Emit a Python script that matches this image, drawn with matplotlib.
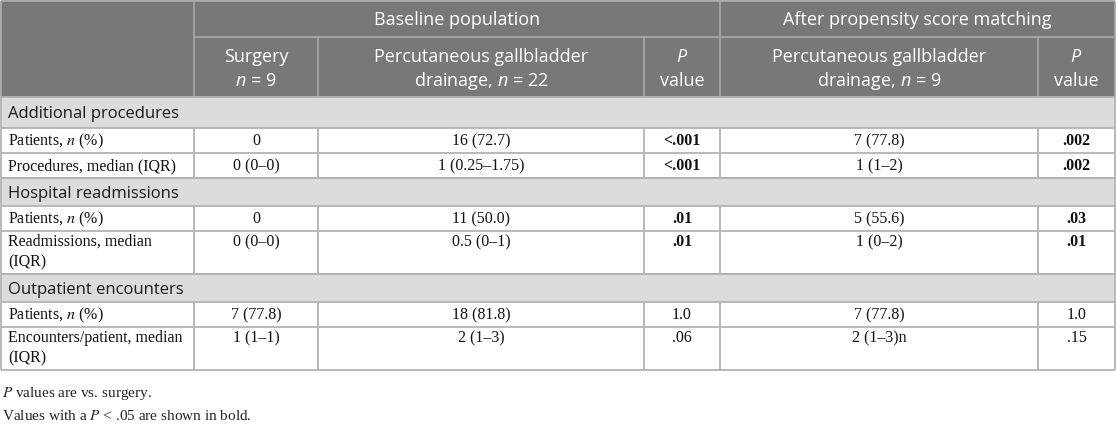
import matplotlib
matplotlib.use("Agg")
import matplotlib.pyplot as plt
from matplotlib.patches import Rectangle

# ── data ──────────────────────────────────────────────────────────────
groups = ["Baseline population", "After propensity score matching"]
col_heads = [["Surgery", "$n$ = 9"],
             ["Percutaneous gallbladder", "drainage, $n$ = 22"],
             ["$P$", "value"],
             ["Percutaneous gallbladder", "drainage, $n$ = 9"],
             ["$P$", "value"]]
sections = ["Additional procedures", "Hospital readmissions", "Outpatient encounters"]
row_labels = [["Patients, $n$ (%)", "Procedures, median (IQR)"],
              ["Patients, $n$ (%)", "Readmissions, median\n(IQR)"],
              ["Patients, $n$ (%)", "Encounters/patient, median\n(IQR)"]]
surgery = ["0", "0 (0–0)", "0", "0 (0–0)", "7 (77.8)", "1 (1–1)"]
pgd_base = ["16 (72.7)", "1 (0.25–1.75)", "11 (50.0)", "0.5 (0–1)", "18 (81.8)", "2 (1–3)"]
p_base = ["<.001", "<.001", ".01", ".01", "1.0", ".06"]
pgd_psm = ["7 (77.8)", "1 (1–2)", "5 (55.6)", "1 (0–2)", "7 (77.8)", "2 (1–3)n"]
p_psm = [".002", ".002", ".03", ".01", "1.0", ".15"]
notes = ["$P$ values are vs. surgery.",
         "Values with a $P$ < .05 are shown in bold."]

# ── layout (pixels) ───────────────────────────────────────────────────
W, H = 1116, 430
X = [1, 194, 318, 644, 720, 1038, 1115]
HEAD = [1, 37, 97]
SEC_H = [31, 28, 28]
ROW_H, ROW2_H, LINE_H = 25, 43, 20

SANS = "Open Sans"
SERIF = "Liberation Serif"
plt.rcParams["mathtext.fontset"] = "custom"
plt.rcParams["mathtext.rm"] = SANS
plt.rcParams["mathtext.it"] = SANS + ":italic"

HEAD_BG, HEAD_LINE = "#787878", "#a6a6a6"
SEC_BG, GRID = "#dcdcdc", "#b3b3b3"
LW = 1.3


def is_sig(p):
    return float(p.lstrip("<")) < 0.05


fig = plt.figure(figsize=(W / 100, H / 100), dpi=100)
ax = fig.add_axes([0, 0, 1, 1])
ax.set_xlim(0, W)
ax.set_ylim(H, 0)
ax.axis("off")

# header block
ax.add_patch(Rectangle((X[0], HEAD[0]), X[-1] - X[0], HEAD[2] - HEAD[0],
                       facecolor=HEAD_BG, edgecolor="none"))
hkw = dict(color="white", fontsize=13, family=SANS, ha="center", va="center")
for g, (a, b) in zip(groups, [(X[1], X[4]), (X[4], X[6])]):
    ax.text((a + b) / 2, (HEAD[0] + HEAD[1]) / 2 + 1, g, **hkw)
for j, lines in enumerate(col_heads):
    xc = (X[j + 1] + X[j + 2]) / 2
    ym = (HEAD[1] + HEAD[2]) / 2 + 2
    for k, s in enumerate(lines):
        ax.text(xc, ym + (k - 0.5) * 23, s, **hkw)
ax.hlines(HEAD[1], X[1], X[6], color=HEAD_LINE, lw=LW)
ax.vlines([X[1], X[4]], HEAD[0], HEAD[2], color=HEAD_LINE, lw=LW)
ax.vlines([X[2], X[3], X[5]], HEAD[1], HEAD[2], color=HEAD_LINE, lw=LW)
ax.hlines(HEAD[0], X[0], X[6], color=HEAD_LINE, lw=LW)
ax.vlines([X[0], X[6]], HEAD[0], HEAD[2], color=HEAD_LINE, lw=LW)

# body
y = HEAD[2]
dkw = dict(family=SERIF, fontsize=11.5, color="#111111", va="center",
           math_fontfamily="stix")
cols = [surgery, pgd_base, p_base, pgd_psm, p_psm]
r = 0
for s, sh, labels in zip(sections, SEC_H, row_labels):
    ax.add_patch(Rectangle((X[0], y), X[-1] - X[0], sh,
                           facecolor=SEC_BG, edgecolor="none"))
    ax.text(X[0] + 7, y + sh / 2 + 1.5, s, family=SANS, fontsize=12,
            color="#1a1a1a", va="center")
    ax.hlines([y, y + sh], X[0], X[6], color=GRID, lw=LW)
    ax.vlines([X[0], X[6]], y, y + sh, color=GRID, lw=LW)
    y += sh
    for lab in labels:
        parts = lab.split("\n")
        h = ROW_H if len(parts) == 1 else ROW2_H
        yl = y + (ROW_H / 2 + 0.5 if len(parts) == 1 else 11)
        for k, p in enumerate(parts):
            ax.text(X[0] + 7, yl + k * LINE_H, p, ha="left", **dkw)
        for j, col in enumerate(cols):
            val = col[r]
            bold = j in (2, 4) and is_sig(val)
            ax.text((X[j + 1] + X[j + 2]) / 2, yl, val, ha="center",
                    fontweight="bold" if bold else "normal", **dkw)
        ax.hlines(y + h, X[0], X[6], color=GRID, lw=LW)
        ax.vlines(X, y, y + h, color=GRID, lw=LW)
        y += h
        r += 1

# footnotes
for k, n in enumerate(notes):
    ax.text(X[0] + 1, y + 23 + k * 23, n, family=SERIF, fontsize=11,
            color="#222222", va="center", math_fontfamily="stix")

fig.savefig("out.png", dpi=100)
